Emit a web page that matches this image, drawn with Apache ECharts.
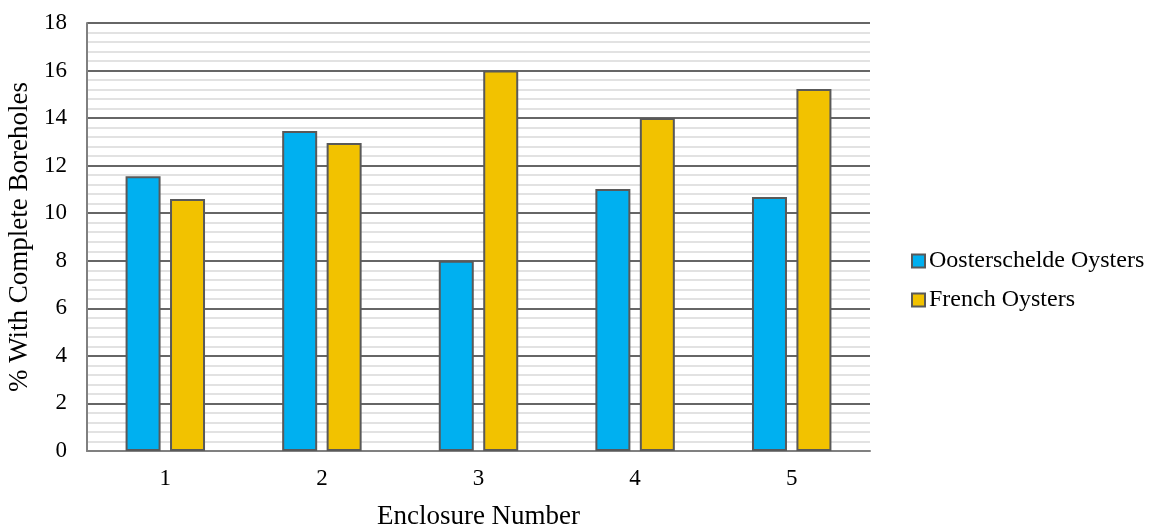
<!DOCTYPE html>
<html><head><meta charset="utf-8">
<script src="https://cdn.jsdelivr.net/npm/echarts@6/dist/echarts.min.js"></script>
<style>html,body{margin:0;padding:0;background:#fff}#c{width:1151px;height:527px}</style>
</head><body><div id="c"></div>
<script>
const categories = ['1','2','3','4','5'];
const oosterschelde = [11.56, 13.46, 8.0, 11.02, 10.68];
const french = [10.6, 12.95, 16.0, 14.0, 15.22];
const seriesNames = ['Oosterschelde Oysters', 'French Oysters'];
const yTitle = '% With Complete Boreholes';
const xTitle = 'Enclosure Number';

const font = 'Liberation Serif, Times New Roman, serif';
const chart = echarts.init(document.getElementById('c'));
chart.setOption({
  animation: false,
  grid: {left: 87, top: 23, width: 783, height: 428, containLabel: false, outerBoundsMode: 'none'},
  legend: {
    orient: 'vertical', left: 906, top: 244, itemGap: 15,
    itemWidth: 13, itemHeight: 13, icon: 'rect',
    textStyle: {fontFamily: font, fontSize: 24, color: '#000', padding: [0,0,0,-1]},
    data: seriesNames
  },
  xAxis: {
    type: 'category', data: categories,
    name: xTitle, nameLocation: 'middle', nameGap: 52,
    nameTextStyle: {fontFamily: font, fontSize: 27, color: '#000'},
    axisLine: {lineStyle: {color: '#808080', width: 2}},
    axisTick: {show: false},
    axisLabel: {fontFamily: font, fontSize: 23, color: '#000', margin: 16}
  },
  yAxis: {
    type: 'value', min: 0, max: 18, interval: 2,
    name: yTitle, nameLocation: 'middle', nameGap: 53,
    nameTextStyle: {fontFamily: font, fontSize: 27, color: '#000'},
    axisLine: {show: true, lineStyle: {color: '#808080', width: 2}},
    axisTick: {show: false},
    axisLabel: {fontFamily: font, fontSize: 23, color: '#000', margin: 20},
    splitLine: {lineStyle: {color: '#333', width: 1.5}},
    minorTick: {show: false, splitNumber: 5},
    minorSplitLine: {show: true, lineStyle: {color: '#d9d9d9', width: 1.5}}
  },
  series: [
    {name: seriesNames[0], type: 'bar', data: oosterschelde, barWidth: 35, barGap: '27%',
     itemStyle: {color: '#00b0f0', borderColor: '#595959', borderWidth: 2}},
    {name: seriesNames[1], type: 'bar', data: french, barWidth: 35, barGap: '27%',
     itemStyle: {color: '#f2c200', borderColor: '#595959', borderWidth: 2}}
  ]
});
</script></body></html>
